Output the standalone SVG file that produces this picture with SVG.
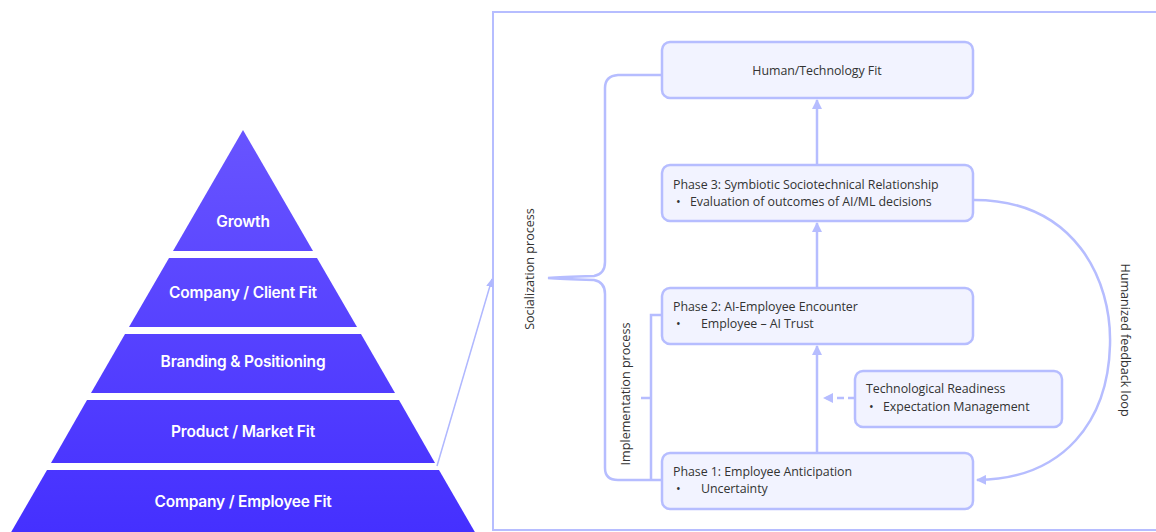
<svg xmlns="http://www.w3.org/2000/svg" width="1156" height="532" viewBox="0 0 1156 532">
<style>
.lvl{font-family:Inter,"Noto Sans",sans-serif;font-weight:600;font-size:15.5px;fill:#fff;text-anchor:middle;letter-spacing:-0.2px}
.box{fill:#F2F3FF;stroke:#B6BDFF;stroke-width:2.5}
.t{font-family:"Open Sans","Noto Sans",sans-serif;font-size:12.4px;fill:#333;letter-spacing:-0.05px}
.ln{fill:none;stroke:#B6BDFF;stroke-width:2.5}
.lab{font-family:"Open Sans","Noto Sans",sans-serif;font-size:12.6px;fill:#333;text-anchor:middle}
</style>
<defs>
<linearGradient id="pg" x1="0" y1="130" x2="0" y2="532" gradientUnits="userSpaceOnUse">
<stop offset="0" stop-color="#6854FF"/>
<stop offset="1" stop-color="#4530FF"/>
</linearGradient>
<marker id="ah" viewBox="0 0 10 10" refX="9" refY="5" markerWidth="4" markerHeight="4" orient="auto-start-reverse" markerUnits="strokeWidth">
<path d="M0,0 L10,5 L0,10 z" fill="#B6BDFF"/>
</marker>
<marker id="ah2" viewBox="0 0 10 10" refX="9" refY="5" markerWidth="6" markerHeight="6" orient="auto" markerUnits="strokeWidth">
<path d="M0,1 L10,5 L0,9 z" fill="#B0B8FF"/>
</marker>
</defs>
<rect width="1156" height="532" fill="#fff"/>

<g id="pyramid">
<g id="lvl-growth">
<polygon points="243,130 313,251 173,251" fill="url(#pg)"/>
<text class="lvl" x="243" y="227">Growth</text>
</g>
<g id="lvl-client">
<polygon points="169,258 317,258 357,327 129,327" fill="url(#pg)"/>
<text class="lvl" x="243" y="298">Company / Client Fit</text>
</g>
<g id="lvl-branding">
<polygon points="125,334 361,334 395,393 91,393" fill="url(#pg)"/>
<text class="lvl" x="243" y="367">Branding &amp; Positioning</text>
</g>
<g id="lvl-product">
<polygon points="87,400 399,400 435,463 51,463" fill="url(#pg)"/>
<text class="lvl" x="243" y="437">Product / Market Fit</text>
</g>
<g id="lvl-employee">
<polygon points="47,470 439,470 476,534 10,534" fill="url(#pg)"/>
<text class="lvl" x="243" y="507">Company / Employee Fit</text>
</g>
</g>

<rect id="panel" x="493" y="12" width="700" height="518" fill="none" stroke="#B6BDFF" stroke-width="2"/>

<g id="connectors">
<path d="M437,466 L492,279" fill="none" stroke="#B0B8FF" stroke-width="1.5" marker-end="url(#ah2)"/>
<path class="ln" d="M817,165 L817,100" marker-end="url(#ah)"/>
<path class="ln" d="M817,288 L817,223" marker-end="url(#ah)"/>
<path class="ln" d="M817,453 L817,346" marker-end="url(#ah)"/>
<path class="ln" d="M855,398 L824,398" stroke-dasharray="7,4" marker-end="url(#ah)"/>
<path class="ln" d="M974,200 C1075,200 1112,280 1110,345 C1108,420 1065,479 977,480" marker-end="url(#ah)"/>
<path class="ln" d="M662,75 L618,75 Q605,76 605,88 L605,262 Q605,274 594,276 Q560,277 548,278 Q560,279 594,280 Q605,282 605,294 L605,468 Q605,480 618,480 L662,480"/>
<path class="ln" d="M662,315 L651,315 L651,480 M651,398 L641,398"/>
</g>

<g id="n-human">
<rect class="box" x="662" y="42" width="311" height="56" rx="8"/>
<text class="t" x="817" y="75" text-anchor="middle">Human/Technology Fit</text>
</g>
<g id="n-phase3">
<rect class="box" x="662" y="165" width="311" height="56" rx="8"/>
<text class="t" x="673" y="189">Phase 3: Symbiotic Sociotechnical Relationship</text>
<text class="t" x="676" y="206">•</text>
<text class="t" x="690" y="206">Evaluation of outcomes of AI/ML decisions</text>
</g>
<g id="n-phase2">
<rect class="box" x="662" y="288" width="311" height="56" rx="8"/>
<text class="t" x="673" y="311">Phase 2: AI-Employee Encounter</text>
<text class="t" x="676" y="328">•</text>
<text class="t" x="701" y="328">Employee – AI Trust</text>
</g>
<g id="n-tech">
<rect class="box" x="855" y="371" width="207" height="56" rx="8"/>
<text class="t" x="866" y="393">Technological Readiness</text>
<text class="t" x="869" y="411">•</text>
<text class="t" x="883" y="411">Expectation Management</text>
</g>
<g id="n-phase1">
<rect class="box" x="662" y="453" width="311" height="56" rx="8"/>
<text class="t" x="673" y="476">Phase 1: Employee Anticipation</text>
<text class="t" x="676" y="493">•</text>
<text class="t" x="701" y="493">Uncertainty</text>
</g>

<g id="labels">
<text class="lab" transform="translate(534,269) rotate(-90)">Socialization process</text>
<text class="lab" transform="translate(630,394) rotate(-90)">Implementation process</text>
<text class="lab" transform="translate(1121,340) rotate(90)">Humanized feedback loop</text>
</g>
</svg>
